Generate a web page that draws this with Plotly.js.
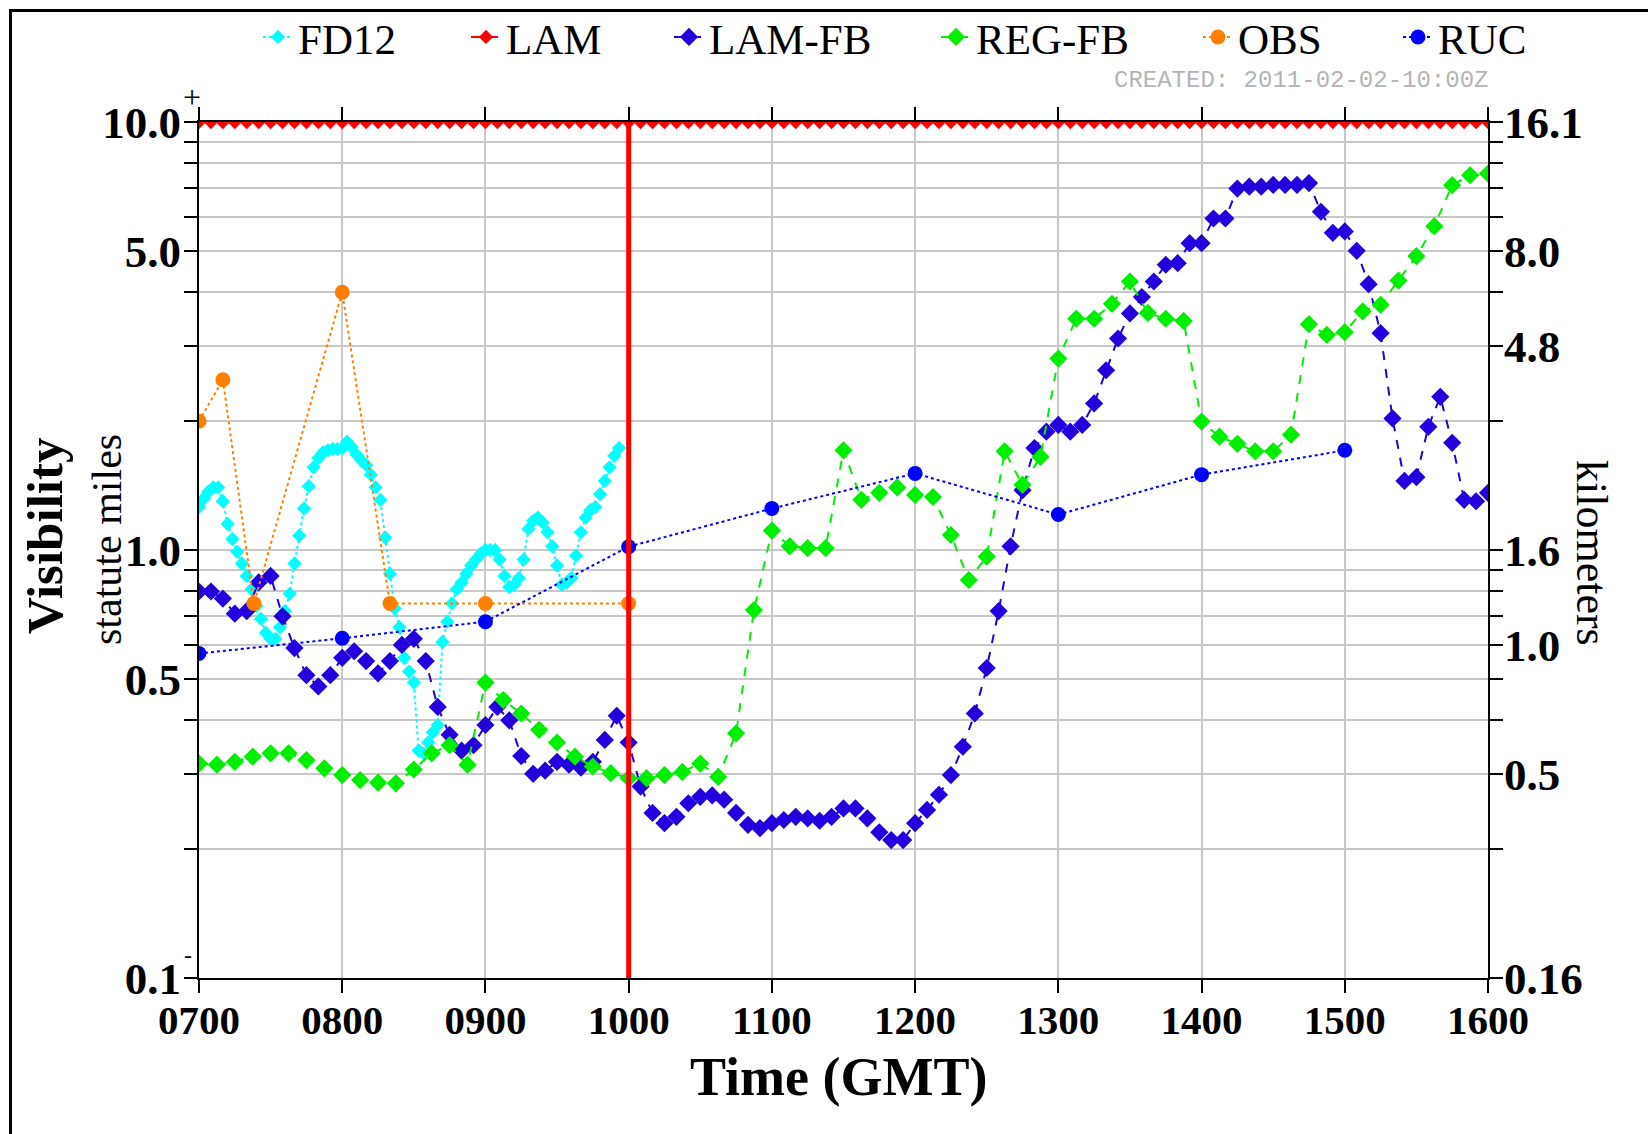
<!DOCTYPE html>
<html>
<head>
<meta charset="utf-8">
<script src="https://cdn.plot.ly/plotly-3.0.1.min.js"></script>
<style>
html,body{margin:0;padding:0;background:#fff;}
#chart{width:1648px;height:1134px;}
</style>
</head>
<body>
<div id="chart"></div>
<script>
// ================= DATA =================
// Times are minutes after 0700 GMT
const hourTicks = [7, 8, 9, 10, 11, 12, 13, 14, 15, 16];
const hourTickText = ['0700','0800','0900','1000','1100','1200','1300','1400','1500','1600'];

const mileTickVals = [0.1,0.2,0.3,0.4,0.5,0.6,0.7,0.8,0.9,1,2,3,4,5,6,7,8,9,10];
const mileTickText = ['0.1','','','','0.5','','','','','1.0','','','','5.0','','','','','10.0'];
const kmTickText   = ['0.16','','0.5','','','1.0','','','','1.6','','4.8','','8.0','','','','','16.1'];
const rangeMarks = ['+', '-'];   // marks beside the 10.0 and 0.1 labels

const issueHour = 10; // 1000 GMT marker

const fd12Minutes = [0,2,4,6,8,10,12,14,16,18,20,22,24,26,28,30,32,34,36,38,
  40,42,44,46,48,50,52,54,56,58,60,62,64,66,68,70,72,74,76,78,
  80,82,84,86,88,90,92,94,96,98,100,102,104,106,108,110,112,114,116,118,
  120,122,124,126,128,130,132,134,136,138,140,142,144,146,148,150,152,154,156,158,
  160,162,164,166,168,170,172,174,176];
const fd12Vis = [1.26,1.32,1.37,1.40,1.40,1.30,1.15,1.06,0.99,0.93,
  0.87,0.81,0.74,0.69,0.64,0.62,0.62,0.66,0.72,0.79,
  0.93,1.08,1.25,1.41,1.56,1.64,1.69,1.71,1.72,1.72,
  1.73,1.79,1.74,1.67,1.62,1.58,1.50,1.40,1.31,1.07,
  0.88,0.73,0.66,0.56,0.52,0.49,0.34,0.335,0.355,0.375,
  0.39,0.61,0.68,0.75,0.81,0.84,0.88,0.92,0.95,0.98,
  1.0,1.0,1.0,0.95,0.87,0.82,0.83,0.86,0.95,1.12,
  1.17,1.19,1.16,1.10,1.02,0.92,0.83,0.84,0.86,0.97,
  1.10,1.19,1.24,1.26,1.35,1.45,1.56,1.66,1.73];

const fiveMinMinutes = [0,5,10,15,20,25,30,35,40,45,50,55,
  60,65,70,75,80,85,90,95,100,105,110,115,
  120,125,130,135,140,145,150,155,160,165,170,175,
  180,185,190,195,200,205,210,215,220,225,230,235,
  240,245,250,255,260,265,270,275,280,285,290,295,
  300,305,310,315,320,325,330,335,340,345,350,355,
  360,365,370,375,380,385,390,395,400,405,410,415,
  420,425,430,435,440,445,450,455,460,465,470,475,
  480,485,490,495,500,505,510,515,520,525,530,535,540];

const lamVis = [10,10,10,10,10,10,10,10,10,10,10,10,
  10,10,10,10,10,10,10,10,10,10,10,10,
  10,10,10,10,10,10,10,10,10,10,10,10,
  10,10,10,10,10,10,10,10,10,10,10,10,
  10,10,10,10,10,10,10,10,10,10,10,10,
  10,10,10,10,10,10,10,10,10,10,10,10,
  10,10,10,10,10,10,10,10,10,10,10,10,
  10,10,10,10,10,10,10,10,10,10,10,10,
  10,10,10,10,10,10,10,10,10,10,10,10,10];

const lamFbVis = [0.80,0.80,0.77,0.71,0.72,0.84,0.87,0.70,0.59,0.51,0.48,0.51,
  0.56,0.58,0.55,0.515,0.55,0.60,0.62,0.55,0.43,0.37,0.34,0.35,
  0.39,0.43,0.40,0.33,0.30,0.305,0.32,0.315,0.31,0.32,0.36,0.41,
  0.355,0.28,0.243,0.23,0.238,0.256,0.265,0.267,0.261,0.243,0.228,0.224,
  0.230,0.234,0.238,0.236,0.233,0.238,0.249,0.249,0.236,0.219,0.210,0.210,
  0.230,0.247,0.268,0.298,0.347,0.415,0.53,0.72,1.02,1.38,1.73,1.89,
  1.96,1.89,1.96,2.20,2.63,3.12,3.57,3.90,4.24,4.64,4.68,5.21,
  5.21,5.95,5.95,6.99,7.06,7.06,7.13,7.13,7.13,7.20,6.17,5.51,
  5.55,5.00,4.18,3.21,2.03,1.45,1.48,1.94,2.28,1.78,1.31,1.30,1.36];

const regMinutes = [0,7.5,15,22.5,30,37.5,45,52.5,60,67.5,75,82.5,
  90,97.5,105,112.5,120,127.5,135,142.5,150,157.5,165,172.5,
  180,187.5,195,202.5,210,217.5,225,232.5,240,247.5,255,262.5,
  270,277.5,285,292.5,300,307.5,315,322.5,330,337.5,345,352.5,
  360,367.5,375,382.5,390,397.5,405,412.5,420,427.5,435,442.5,
  450,457.5,465,472.5,480,487.5,495,502.5,510,517.5,525,532.5,540];
const regFbVis = [0.317,0.315,0.320,0.329,0.335,0.335,0.323,0.309,0.298,0.290,0.286,0.285,
  0.307,0.335,0.350,0.315,0.490,0.446,0.415,0.380,0.355,0.329,0.312,0.301,
  0.293,0.293,0.298,0.303,0.317,0.295,0.373,0.724,1.11,1.02,1.01,1.01,
  1.71,1.31,1.36,1.40,1.345,1.33,1.084,0.851,0.965,1.70,1.42,1.65,
  2.80,3.47,3.47,3.76,4.24,3.58,3.47,3.43,1.995,1.84,1.77,1.70,
  1.70,1.86,3.37,3.18,3.23,3.61,3.74,4.26,4.86,5.71,7.12,7.51,7.58];

const obsMinutes = [0,10,23,60,80,120,180];
const obsVis = [2.0,2.5,0.75,4.0,0.75,0.75,0.75];

const rucMinutes = [0,60,120,180,240,300,360,420,480];
const rucVis = [0.573,0.622,0.680,1.018,1.25,1.51,1.21,1.50,1.71];

const seriesNames = ['FD12','LAM','LAM-FB','REG-FB','OBS','RUC'];
const createdStamp = 'CREATED: 2011-02-02-10:00Z';

// ================= CHART =================
const toHour = m => 7 + m / 60;
const serif = 'Liberation Serif, Times New Roman, serif';

const traces = [
  {name: seriesNames[0], x: fd12Minutes.map(toHour), y: fd12Vis, type: 'scatter', mode: 'lines+markers',
   line: {color: '#00ffff', width: 2, dash: 'dot'}, marker: {symbol: 'diamond', size: 11, color: '#00ffff'}, legendwidth: 163},
  {name: seriesNames[1], x: fiveMinMinutes.map(toHour), y: lamVis, type: 'scatter', mode: 'lines+markers',
   line: {color: '#ff0000', width: 2, dash: 'dash'}, marker: {symbol: 'diamond', size: 11, color: '#ff0000'}, legendwidth: 158},
  {name: seriesNames[2], x: fiveMinMinutes.map(toHour), y: lamFbVis, type: 'scatter', mode: 'lines+markers',
   line: {color: '#2200dd', width: 2, dash: 'dash'}, marker: {symbol: 'diamond', size: 14, color: '#2200dd'}, legendwidth: 222},
  {name: seriesNames[3], x: regMinutes.map(toHour), y: regFbVis, type: 'scatter', mode: 'lines+markers',
   line: {color: '#00ee00', width: 2, dash: 'dash'}, marker: {symbol: 'diamond', size: 14, color: '#00ee00'}, legendwidth: 217},
  {name: seriesNames[4], x: obsMinutes.map(toHour), y: obsVis, type: 'scatter', mode: 'lines+markers',
   line: {color: '#ff8000', width: 2, dash: 'dot'}, marker: {symbol: 'circle', size: 15, color: '#ff8000'}, legendwidth: 155},
  {name: seriesNames[5], x: rucMinutes.map(toHour), y: rucVis, type: 'scatter', mode: 'lines+markers',
   line: {color: '#0000ff', width: 2, dash: 'dot'}, marker: {symbol: 'circle', size: 15, color: '#0000ff'}},
  {x: [], y: [], yaxis: 'y2', type: 'scatter', showlegend: false, hoverinfo: 'skip'}
];

// plot area in page pixels: left 199, right 1488, top 122, bottom 978
const L = 199, R = 1488, T = 122, B = 978;
const px = X => (X - L) / (R - L);
const py = Y => (B - Y) / (B - T);

const tickFont = {family: serif, size: 45, weight: 'bold', color: '#000'};

const layout = {
  width: 1648, height: 1134,
  margin: {l: L, r: 1648 - R, t: T, b: 1134 - B, pad: 0, autoexpand: false},
  paper_bgcolor: '#ffffff', plot_bgcolor: '#ffffff',
  font: {family: serif, color: '#000000'},
  showlegend: true,
  legend: {orientation: 'h', x: px(258), xanchor: 'left', y: py(37), yanchor: 'middle',
           font: {family: serif, size: 43, color: '#000'}, bgcolor: 'rgba(0,0,0,0)', traceorder: 'normal'},
  xaxis: {type: 'linear', range: [7, 16], tickmode: 'array', tickvals: hourTicks, ticktext: hourTickText,
          tickfont: {family: serif, size: 41, weight: 'bold', color: '#000'}, ticklabelstandoff: -8,
          ticks: 'outside', ticklen: 13, tickwidth: 2, tickcolor: '#000',
          showline: true, linecolor: '#000', linewidth: 2, mirror: 'ticks',
          showgrid: true, gridcolor: '#c8c8c8', gridwidth: 2, zeroline: false, fixedrange: true},
  yaxis: {type: 'log', range: [-1, 1], tickmode: 'array', tickvals: mileTickVals, ticktext: mileTickText,
          tickfont: tickFont, ticklabelstandoff: -6,
          ticks: 'outside', ticklen: 13, tickwidth: 2, tickcolor: '#000',
          showline: true, linecolor: '#000', linewidth: 2,
          showgrid: true, gridcolor: '#c8c8c8', gridwidth: 2, zeroline: false, fixedrange: true},
  yaxis2: {type: 'log', range: [-1, 1], overlaying: 'y', side: 'right', tickmode: 'array',
           tickvals: mileTickVals, ticktext: kmTickText,
           tickfont: tickFont, ticklabelstandoff: -8,
           ticks: 'outside', ticklen: 13, tickwidth: 2, tickcolor: '#000',
           showline: true, linecolor: '#000', linewidth: 2,
           showgrid: false, zeroline: false, fixedrange: true},
  shapes: [
    {type: 'line', xref: 'x', yref: 'paper', x0: issueHour, x1: issueHour, y0: 0, y1: 1,
     line: {color: '#ff0000', width: 5}, layer: 'above'},
    {type: 'line', xref: 'paper', yref: 'paper', x0: px(10.5), x1: px(10.5), y0: py(1140), y1: py(10.5),
     line: {color: '#000', width: 3}},
    {type: 'line', xref: 'paper', yref: 'paper', x0: px(9), x1: px(1660), y0: py(10.5), y1: py(10.5),
     line: {color: '#000', width: 3}}
  ],
  annotations: [
    {text: '<b>Visibility</b>', xref: 'paper', yref: 'paper', x: px(45), y: py(536), textangle: -90,
     showarrow: false, xanchor: 'center', yanchor: 'middle', font: {family: serif, size: 51, color: '#000'}},
    {text: 'statute miles', xref: 'paper', yref: 'paper', x: px(107), y: py(540), textangle: -90,
     showarrow: false, xanchor: 'center', yanchor: 'middle', font: {family: serif, size: 42, color: '#000'}},
    {text: 'kilometers', xref: 'paper', yref: 'paper', x: px(1592), y: py(553), textangle: 90,
     showarrow: false, xanchor: 'center', yanchor: 'middle', font: {family: serif, size: 44, color: '#000'}},
    {text: '<b>Time (GMT)</b>', xref: 'paper', yref: 'paper', x: px(838), y: py(1077),
     showarrow: false, xanchor: 'center', yanchor: 'middle', font: {family: serif, size: 54, color: '#000'}},
    {text: rangeMarks[0], xref: 'paper', yref: 'paper', x: px(192), y: py(97),
     showarrow: false, xanchor: 'center', yanchor: 'middle', font: {family: serif, size: 32, color: '#000'}},
    {text: rangeMarks[1], xref: 'paper', yref: 'paper', x: px(188), y: py(955),
     showarrow: false, xanchor: 'center', yanchor: 'middle', font: {family: serif, size: 24, color: '#000'}},
    {text: createdStamp, xref: 'paper', yref: 'paper', x: px(1490), y: py(81),
     showarrow: false, xanchor: 'right', yanchor: 'middle',
     font: {family: 'Liberation Mono, DejaVu Sans Mono, monospace', size: 24, color: '#b4b4b4'}}
  ]
};

Plotly.newPlot('chart', traces, layout, {displayModeBar: false, staticPlot: true});
</script>
</body>
</html>
